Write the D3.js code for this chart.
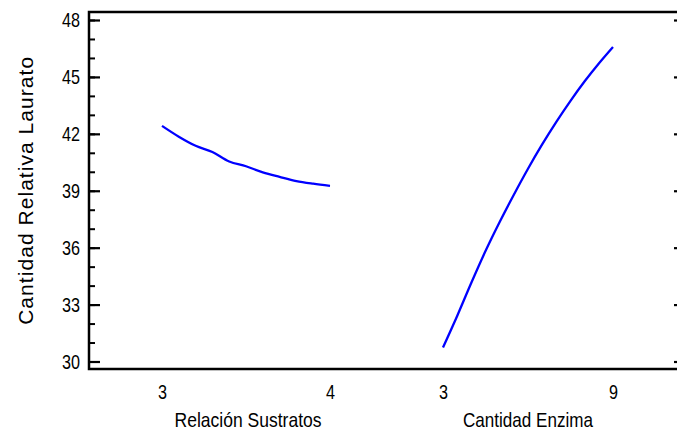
<!DOCTYPE html>
<html>
<meta charset="utf-8">
<script src="https://d3js.org/d3.v7.min.js"></script>
<style>
  body { margin: 0; background: #fff; }
  text { font-family: "Liberation Sans", Arial, sans-serif; fill: #000; }
</style>
<body>
<div id="my_dataviz"></div>
<script>

// data (main effects plot)
var factors = ["Relación Sustratos", "Cantidad Enzima"];
var factorLow = [3, 3];
var factorHigh = [4, 9];

var sustratosX = [3, 3.1, 3.2, 3.3, 3.4, 3.5, 3.6, 3.7, 3.8, 3.9, 4.0];
var sustratosY = [42.42, 41.85, 41.37, 41.04, 40.54, 40.29, 39.97, 39.73, 39.51, 39.37, 39.26];

var enzimaX = [3, 3.5, 4, 4.5, 5, 5.5, 6, 6.5, 7, 7.5, 8, 8.5, 9];
var enzimaY = [30.74, 32.4, 34.15, 35.82, 37.35, 38.79, 40.16, 41.44, 42.63, 43.74, 44.77, 45.71, 46.58];

var yMajorTicks = [30, 33, 36, 39, 42, 45, 48];
var yMinorTicks = d3.range(30, 49, 1);

var yTitle = "Cantidad Relativa Laurato";

// layout
var width = 677, height = 432;
var frame = {left: 89, top: 12, right: 681, bottom: 369};

var svg = d3.select("#my_dataviz")
  .append("svg")
    .attr("width", width)
    .attr("height", height);

// scales
var y = d3.scaleLinear()
    .domain([30, 48])
    .range([361.5, 20]);

// each factor gets its own span along the bottom
var xRanges = [[162, 330], [443, 613]];
var xScales = factors.map(function(f, i) {
  return d3.scaleLinear().domain([factorLow[i], factorHigh[i]]).range(xRanges[i]);
});

// frame
svg.append("rect")
    .attr("x", frame.left)
    .attr("y", frame.top)
    .attr("width", frame.right - frame.left)
    .attr("height", frame.bottom - frame.top)
    .attr("fill", "none")
    .attr("stroke", "#000")
    .attr("stroke-width", 2.5);

// left axis: minor ticks then major ticks, pointing inward
svg.append("g")
    .attr("transform", "translate(" + frame.left + ",0)")
    .call(d3.axisLeft(y).tickValues(yMinorTicks).tickSize(-6).tickFormat(""))
    .call(function(g) { g.select(".domain").remove(); })
    .selectAll("line").attr("stroke-width", 2);

var leftAxis = svg.append("g")
    .attr("transform", "translate(" + frame.left + ",0)")
    .call(d3.axisLeft(y).tickValues(yMajorTicks).tickSize(-11).tickPadding(9).tickFormat(d3.format("d")));
leftAxis.select(".domain").remove();
leftAxis.selectAll("line").attr("stroke-width", 2.2);
leftAxis.selectAll("text")
    .attr("font-size", 21)
    .attr("font-family", "Liberation Sans, Arial, sans-serif")
    .attr("textLength", 18)
    .attr("lengthAdjust", "spacingAndGlyphs");

// right axis: short major ticks only
var rightAxis = svg.append("g")
    .attr("transform", "translate(" + frame.right + ",0)")
    .call(d3.axisLeft(y).tickValues(yMajorTicks).tickSize(7).tickFormat(""));
rightAxis.select(".domain").remove();
rightAxis.selectAll("line").attr("stroke-width", 2.2);

// bottom tick labels (low / high of each factor), no tick marks
factors.forEach(function(f, i) {
  var ax = svg.append("g")
      .attr("transform", "translate(0," + frame.bottom + ")")
      .call(d3.axisBottom(xScales[i]).tickValues([factorLow[i], factorHigh[i]]).tickSize(0).tickPadding(15).tickFormat(d3.format("d")));
  ax.select(".domain").remove();
  ax.selectAll("text")
      .attr("font-size", 21)
      .attr("font-family", "Liberation Sans, Arial, sans-serif")
      .attr("textLength", 9)
      .attr("lengthAdjust", "spacingAndGlyphs");
});

// factor titles
var titleX = [248, 528];
var titleLen = [147, 130];
factors.forEach(function(f, i) {
  svg.append("text")
      .attr("x", titleX[i])
      .attr("y", 427)
      .attr("text-anchor", "middle")
      .attr("font-size", 21)
      .attr("textLength", titleLen[i])
      .attr("lengthAdjust", "spacingAndGlyphs")
      .text(f);
});

// y title
svg.append("text")
    .attr("transform", "translate(33," + ((56.7 + 325) / 2) + ") rotate(-90)")
    .attr("text-anchor", "middle")
    .attr("font-size", 21)
    .attr("textLength", 268)
    .attr("lengthAdjust", "spacing")
    .text(yTitle);

// effect lines
var series = [
  {xs: sustratosX, ys: sustratosY, sc: xScales[0]},
  {xs: enzimaX, ys: enzimaY, sc: xScales[1]}
];

series.forEach(function(s) {
  var pts = s.xs.map(function(v, j) { return [v, s.ys[j]]; });
  svg.append("path")
      .datum(pts)
      .attr("fill", "none")
      .attr("stroke", "#0000ff")
      .attr("stroke-width", 2.3)
      .attr("d", d3.line()
          .curve(d3.curveMonotoneX)
          .x(function(d) { return s.sc(d[0]); })
          .y(function(d) { return y(d[1]); }));
});

</script>
</body>
</html>
